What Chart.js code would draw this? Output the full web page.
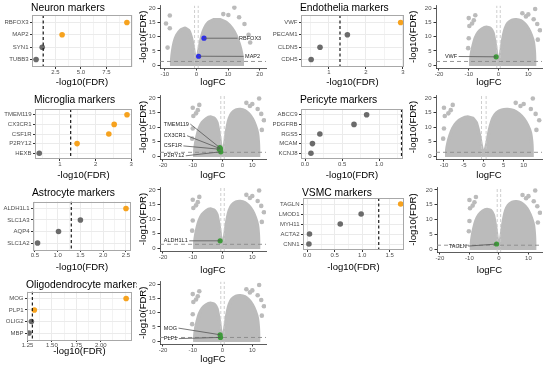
<!DOCTYPE html>
<html><head><meta charset="utf-8">
<script src="https://cdn.jsdelivr.net/npm/chart.js@4.4.0/dist/chart.umd.min.js"></script>
<style>
html,body{margin:0;padding:0;background:#fff;}
#wrap{position:relative;width:546px;height:365px;overflow:hidden;background:#fff;}
canvas{position:absolute;}
</style></head><body><div id="wrap"></div>
<script>
// ================= DATA =================
const fdrCut = 1.3;
const neuronGenes = ['RBFOX3','MAP2','SYN1','TUBB3'];
const neuronFDR   = [9.5, 3.15, 1.2, 0.6];
const neuronSig   = [true, true, false, false];
const microGenes  = ['TMEM119','CX3CR1','CSF1R','P2RY12','HEXB'];
const microFDR    = [2.88, 2.52, 2.37, 1.48, 0.42];
const microSig    = [true, true, true, true, false];
const astroGenes  = ['ALDH1L1','SLC1A3','AQP4','SLC1A2'];
const astroFDR    = [2.5, 1.5, 1.02, 0.56];
const astroSig    = [true, false, false, false];
const oligoGenes  = ['MOG','PLP1','OLIG2','MBP'];
const oligoFDR    = [2.26, 1.32, 1.29, 1.265];
const oligoSig    = [true, true, false, false];
const endoGenes   = ['VWF','PECAM1','CLDN5','CDH5'];
const endoFDR     = [2.94, 1.5, 0.76, 0.52];
const endoSig     = [true, false, false, false];
const periGenes   = ['ABCC9','PDGFRB','RGS5','MCAM','KCNJ8'];
const periFDR     = [0.83, 0.66, 0.2, 0.1, 0.08];
const periSig     = [false, false, false, false, false];
const vsmcGenes   = ['TAGLN','LMOD1','MYH11','ACTA2','CNN1'];
const vsmcFDR     = [1.7, 0.98, 0.6, 0.04, 0.03];
const vsmcSig     = [true, false, false, false, false];

// logFC of the highlighted genes, same order as the genes flagged above
const neuronLogFC = [2.4, 0.7];
const microLogFC  = [-0.9, -0.7, -1.1, -0.6];
const astroLogFC  = [-0.8];
const oligoLogFC  = [-0.8, -0.7];
const endoLogFC   = [-0.8];
const vsmcLogFC   = [-0.8];

// tick labels
const neuronTicks = ['2.5','5.0','7.5'];
const microTicks  = ['1','2','3'];
const astroTicks  = ['0.5','1.0','1.5','2.0','2.5'];
const oligoTicks  = ['1.25','1.50','1.75','2.00'];
const endoTicks   = ['1','2','3'];
const periTicks   = ['0.0','0.5','1.0'];
const vsmcTicks   = ['0.0','0.5','1.0','1.5'];
const volcYTicks  = ['0','5','10','15','20'];
const volcXTicks  = ['-20','-10','0','10'];
const neuVXTicks  = ['-10','0','10','20'];
const periVXTicks = ['-10','-5','0','5','10'];

// volcano clouds: envelope of the dense region, and isolated points [logFC, -log10FDR]
const stdCloud = [[-9.3,-0.3],[-9.3,2],[-9,4.5],[-8.5,7],[-7.8,9.5],[-6.8,11.5],[-5.5,12.8],[-4,13.4],[-2.8,13],[-1.9,11.5],[-1.4,9],[-1,6.5],[-0.7,4],[-0.4,2],[0,1.3],[0.4,2.2],[0.8,4.5],[1.2,7.5],[1.7,10.5],[2.3,13],[3.2,14.8],[4.5,15.8],[6,16],[7.5,15.6],[8.8,14.5],[10,12.8],[11,10.5],[11.7,8],[12,5],[12.1,2.5],[12.1,-0.3]];
const stdOutliers = [[-10,16.6],[-8.3,15.8],[-8.9,14.7],[-9.8,13.8],[-7.8,17.6],[-10.2,6],[-10,9.5],[8,18.3],[10,17.9],[12.3,19.8],[13.9,12.3],[13,14.5],[11.8,16.2],[9.2,17.2],[13.2,9]];
const neuCloud = [[-7.8,-0.3],[-7.8,2],[-7.5,5],[-7,8],[-6.2,10.5],[-5,12.3],[-3.6,13],[-2.5,12.3],[-1.7,10],[-1.1,7],[-0.7,4],[-0.35,2],[0,1.3],[0.35,2.2],[0.7,4.5],[1.2,7.5],[1.8,10.5],[2.6,13],[3.8,15],[5.5,16],[7.5,16],[9.5,15],[11.2,13],[12.5,10.5],[13.5,7.5],[14.2,4.5],[14.5,2],[14.5,-0.3]];
const neuOutliers = [[-8.4,17.5],[-9.6,14.7],[-8.4,13],[-9.1,6.2],[10.1,17.7],[12,20.3],[13.5,16.9],[15.2,14.5],[16.5,10.7],[8.5,18],[17,8]];

// ================= LAYOUT / STYLE =================
const FAM = "'Liberation Sans', Arial, Helvetica, sans-serif";
function hasFont(f){
  const c=document.createElement('canvas').getContext('2d');
  c.font='20px monospace'; const a=c.measureText('TMEM119 markers').width;
  c.font='20px "'+f+'", monospace'; return Math.abs(c.measureText('TMEM119 markers').width-a)>0.5;
}
const NARROW = hasFont('Liberation Sans Narrow');
const TICKFONT = NARROW ? {family:"'Liberation Sans Narrow', 'Liberation Sans', Arial, sans-serif", size:7} : {family:FAM, size:6};
const ORANGE = '#F6A21E', DGRAY = '#6B6B6B', VGRAY = '#BBBBBB', GREEN = '#3E9A3A', BLUE = '#2E2EEA';
Chart.defaults.font.family = FAM;
Chart.defaults.animation = false;
Chart.defaults.plugins.legend.display = false;
Chart.defaults.plugins.tooltip.enabled = false;

const wrap = document.getElementById('wrap');
function mkCanvas(l,t,w,h){
  const c=document.createElement('canvas');
  c.style.left=l+'px'; c.style.top=t+'px';
  c.width=w; c.height=h; c.style.width=w+'px'; c.style.height=h+'px';
  wrap.appendChild(c); return c;
}

const framePlugin = {
  id:'frame',
  afterDatasetsDraw(chart,args,o){
    if(!o || !o.show) return;
    const a=chart.chartArea, ctx=chart.ctx;
    ctx.save(); ctx.strokeStyle=o.color||'#999'; ctx.lineWidth=1;
    ctx.strokeRect(Math.round(a.left)+0.5,Math.round(a.top)+0.5,Math.round(a.right-a.left)-1,Math.round(a.bottom-a.top)-1);
    ctx.restore();
  },
  afterDraw(chart,args,o){
    if(!o || !o.title) return;
    const ctx=chart.ctx;
    ctx.save(); ctx.font='10.3px '+FAM; ctx.fillStyle='#000'; ctx.textBaseline='alphabetic'; ctx.textAlign='left';
    ctx.fillText(o.title, chart.chartArea.left-1, o.titleY);
    ctx.restore();
  }
};
const labelPlugin = {
  id:'geneLabels',
  afterDatasetsDraw(chart,args,o){
    if(!o || !o.items) return;
    const ctx=chart.ctx, x=chart.scales.x, y=chart.scales.y;
    ctx.save(); ctx.font=(TICKFONT.size-0.5)+'px '+TICKFONT.family; ctx.textBaseline='middle'; ctx.textAlign='left';
    o.items.forEach(it=>{
      const px=x.getPixelForValue(it.px), py=y.getPixelForValue(it.py);
      const lx=x.getPixelForValue(it.lx), ly=y.getPixelForValue(it.ly);
      const w=ctx.measureText(it.text).width;
      const ex = (lx+w < px) ? lx+w+1.5 : lx-1.5;
      ctx.strokeStyle='#555'; ctx.lineWidth=0.8;
      ctx.beginPath(); ctx.moveTo(ex,ly); ctx.lineTo(px,py); ctx.stroke();
      ctx.fillStyle='#222'; ctx.fillText(it.text,lx,ly);
    });
    ctx.restore();
  }
};
Chart.register(framePlugin,labelPlugin);

function near(a,b){return Math.abs(a-b)<1e-6;}

function dotChart(p){
  const [cl,ct,cw,ch]=p.canvas, [bl,bt,br,bb]=p.box;
  const cv=mkCanvas(cl,ct,cw,ch);
  const n=p.genes.length;
  const majors=p.ticks.map(Number);
  const step=majors[1]-majors[0];
  const all=[];
  for(let k=-1;k<=majors.length;k++){
    const v=majors[0]+k*step;
    if(v>=p.min-1e-9 && v<=p.max+1e-9) all.push(v);
    const m=v+step/2;
    if(m>=p.min && m<=p.max) all.push(m);
  }
  all.sort((a,b)=>a-b);
  const isMaj=v=>majors.some(m=>near(m,v));
  new Chart(cv,{
    type:'scatter',
    data:{datasets:[
      {type:'line',data:[{x:fdrCut,y:0.4},{x:fdrCut,y:n+0.6}],borderColor:'#1a1a1a',borderWidth:1.2,borderDash:[3,2.5],pointRadius:0,order:0},
      {data:p.vals.map((v,i)=>({x:v,y:i+1})),pointRadius:2.8,pointBorderWidth:0,
        pointBackgroundColor:p.sig.map(s=>s?ORANGE:DGRAY),order:1}
    ]},
    options:{
      responsive:false,
      layout:{padding:{left:0,top:bt-ct,right:cl+cw-br,bottom:0}},
      plugins:{frame:{show:true,color:'#A8A8A8',title:p.title,titleY:p.titleY-ct}},
      scales:{
        x:{type:'linear',min:p.min,max:p.max,
          afterBuildTicks:s=>{s.ticks=all.map(v=>({value:v}));},
          ticks:{autoSkip:false,maxRotation:0,padding:0,font:TICKFONT,color:'#4D4D4D',
            callback:(v)=>{const i=majors.findIndex(m=>near(m,v));return i>=0?p.ticks[i]:'';}},
          grid:{color:'#EBEBEB',lineWidth:c=>(c.tick&&isMaj(c.tick.value))?1:0.6,tickLength:2,
            tickColor:c=>(c.tick&&isMaj(c.tick.value))?'#333':'rgba(0,0,0,0)'},
          border:{display:false},
          title:{display:true,text:'-log10(FDR)',font:{size:9.5},color:'#000',padding:{top:0,bottom:0}},
          afterFit:s=>{s.height=ct+ch-bb;}
        },
        y:{type:'linear',reverse:true,min:0.4,max:n+0.6,
          afterBuildTicks:s=>{s.ticks=p.genes.map((g,i)=>({value:i+1}));},
          ticks:{autoSkip:false,padding:1.5,font:TICKFONT,color:'#4D4D4D',callback:v=>p.genes[Math.round(v)-1]||''},
          grid:{color:'#EBEBEB',lineWidth:1,tickLength:2,tickColor:'#333'},
          border:{display:false},
          afterFit:s=>{s.width=bl-cl;}
        }
      }
    }
  });
}

function volcChart(p){
  const [cl,ct,cw,ch]=p.canvas, [al,at,ar,ab]=p.area;
  const cv=mkCanvas(cl,ct,cw,ch);
  const toPts=a=>a.map(q=>({x:q[0],y:q[1]}));
  const xt=p.xticks.map(Number), yt=volcYTicks.map(Number);
  const ds=[];
  if(p.hits.length){
    ds.push({data:p.hits.map(h=>({x:h.x,y:h.y})),pointRadius:2.6,pointBorderWidth:0,pointBackgroundColor:p.hitColor,order:0});
  }
  ds.push({type:'line',data:[{x:p.xmin,y:fdrCut},{x:p.xmax,y:fdrCut}],borderColor:'#8a8a8a',borderWidth:0.9,borderDash:[4,3],pointRadius:0,order:1});
  [-p.fcCut,p.fcCut].forEach(v=>ds.push({type:'line',data:[{x:v,y:-1},{x:v,y:21}],borderColor:'#C8C8C8',borderWidth:0.9,borderDash:[3,2],pointRadius:0,order:1}));
  ds.push({data:toPts(p.outliers),pointRadius:2.3,pointBorderWidth:0,pointBackgroundColor:VGRAY,order:2});
  ds.push({type:'line',data:toPts(p.cloud),fill:'shape',backgroundColor:VGRAY,borderColor:VGRAY,borderWidth:3.5,borderJoinStyle:'round',tension:0.1,pointRadius:0,order:3});
  new Chart(cv,{
    type:'scatter',
    data:{datasets:ds},
    options:{
      responsive:false,
      layout:{padding:{left:0,top:at-ct,right:cl+cw-ar,bottom:0}},
      plugins:{geneLabels:{items:p.labels}},
      scales:{
        x:{type:'linear',min:p.xmin,max:p.xmax,
          afterBuildTicks:s=>{s.ticks=xt.map(v=>({value:v}));},
          ticks:{autoSkip:false,maxRotation:0,padding:0,font:TICKFONT,color:'#4D4D4D',callback:v=>{const i=xt.findIndex(m=>near(m,v));return i>=0?p.xticks[i]:'';}},
          grid:{drawOnChartArea:false,tickLength:2.5,color:'#333',tickColor:'#333'},
          border:{display:true,color:'#333',width:0.8},
          title:{display:true,text:'logFC',font:{size:9.5},color:'#000',padding:{top:0,bottom:0}},
          afterFit:s=>{s.height=ct+ch-ab;}
        },
        y:{type:'linear',min:-1,max:21,
          afterBuildTicks:s=>{s.ticks=yt.map(v=>({value:v}));},
          ticks:{autoSkip:false,padding:2,font:TICKFONT,color:'#4D4D4D',callback:v=>{const i=yt.findIndex(m=>near(m,v));return i>=0?volcYTicks[i]:'';}},
          grid:{drawOnChartArea:false,tickLength:2.5,color:'#333',tickColor:'#333'},
          border:{display:true,color:'#333',width:0.8},
          title:{display:true,text:'-log10(FDR)',font:{size:9.5},color:'#000',padding:{top:2.3,bottom:0}},
          afterFit:s=>{s.width=al-cl;}
        }
      }
    }
  });
}

function hitsOf(genes,vals,sig,fcs){
  const out=[]; let k=0;
  genes.forEach((g,i)=>{ if(sig[i]){ out.push({gene:g,x:fcs[k],y:vals[i]}); k++; } });
  return out;
}
function lab(hits,pos){ return hits.map((h,i)=>({text:h.gene,px:h.x,py:h.y,lx:pos[i][0],ly:pos[i][1]})); }

// ---- dot panels ----
dotChart({genes:neuronGenes,vals:neuronFDR,sig:neuronSig,ticks:neuronTicks,min:0.2,max:10.0,title:'Neuron markers',titleY:11,canvas:[0,0,137,88],box:[32,15,132,67]});
dotChart({genes:microGenes,vals:microFDR,sig:microSig,ticks:microTicks,min:0.3,max:3.02,title:'Microglia markers',titleY:102.5,canvas:[0,88,137,93],box:[35,109,132,159]});
dotChart({genes:astroGenes,vals:astroFDR,sig:astroSig,ticks:astroTicks,min:0.46,max:2.61,title:'Astrocyte markers',titleY:195.7,canvas:[0,181,137,92],box:[33,201.5,131,250]});
dotChart({genes:oligoGenes,vals:oligoFDR,sig:oligoSig,ticks:oligoTicks,min:1.245,max:2.32,title:'Oligodendrocyte markers',titleY:288.3,canvas:[0,273,137,84],box:[27,291.5,132,340]});
dotChart({genes:endoGenes,vals:endoFDR,sig:endoSig,ticks:endoTicks,min:0.246,max:3.03,title:'Endothelia markers',titleY:11,canvas:[270,0,138,88],box:[301,15,404,67]});
dotChart({genes:periGenes,vals:periFDR,sig:periSig,ticks:periTicks,min:-0.054,max:1.32,title:'Pericyte markers',titleY:102.5,canvas:[270,88,138,93],box:[301,109,403,159]});
dotChart({genes:vsmcGenes,vals:vsmcFDR,sig:vsmcSig,ticks:vsmcTicks,min:-0.078,max:1.76,title:'VSMC markers',titleY:195.7,canvas:[270,181,138,92],box:[303,198,405,250]});

// ---- volcano panels ----
const neuHits=hitsOf(neuronGenes,neuronFDR,neuronSig,neuronLogFC);
volcChart({canvas:[135,0,135,88],area:[160,3,268,68],xmin:-11.5,xmax:22,xticks:neuVXTicks,fcCut:0.58,
  cloud:neuCloud,outliers:neuOutliers,hits:neuHits,hitColor:BLUE,
  labels:lab(neuHits,[[13.5,9.5],[15.4,3.1]])});
const micHits=hitsOf(microGenes,microFDR,microSig,microLogFC);
volcChart({canvas:[135,88,135,93],area:[160,95,267,159],xmin:-21,xmax:14.6,xticks:volcXTicks,fcCut:0.58,
  cloud:stdCloud,outliers:stdOutliers,hits:micHits,hitColor:GREEN,
  labels:lab(micHits,[[-19.7,11],[-19.7,7],[-19.7,3.5],[-19.7,0.1]])});
const astHits=hitsOf(astroGenes,astroFDR,astroSig,astroLogFC);
volcChart({canvas:[135,181,135,95],area:[160,187,267,251],xmin:-21,xmax:14.6,xticks:volcXTicks,fcCut:0.58,
  cloud:stdCloud,outliers:stdOutliers,hits:astHits,hitColor:GREEN,
  labels:lab(astHits,[[-19.7,2.5]])});
const oliHits=hitsOf(oligoGenes,oligoFDR,oligoSig,oligoLogFC);
volcChart({canvas:[135,276,135,89],area:[160,278,267,344],xmin:-21,xmax:14.6,xticks:volcXTicks,fcCut:0.58,
  cloud:stdCloud,outliers:stdOutliers,hits:oliHits,hitColor:GREEN,
  labels:lab(oliHits,[[-19.7,4.6],[-19.7,0.9]])});
const endHits=hitsOf(endoGenes,endoFDR,endoSig,endoLogFC);
volcChart({canvas:[405,0,141,88],area:[436,3,543,68],xmin:-21,xmax:14.6,xticks:volcXTicks,fcCut:0.58,
  cloud:stdCloud,outliers:stdOutliers,hits:endHits,hitColor:GREEN,
  labels:lab(endHits,[[-18,3.05]])});
volcChart({canvas:[405,88,141,93],area:[436,95,543,159],xmin:-12,xmax:14.6,xticks:periVXTicks,fcCut:0.58,
  cloud:stdCloud,outliers:stdOutliers,hits:[],hitColor:GREEN,labels:[]});
const vsmHits=hitsOf(vsmcGenes,vsmcFDR,vsmcSig,vsmcLogFC);
volcChart({canvas:[405,181,141,95],area:[437,187,543,252],xmin:-21,xmax:14.6,xticks:volcXTicks,fcCut:0.58,
  cloud:stdCloud,outliers:stdOutliers,hits:vsmHits,hitColor:GREEN,
  labels:lab(vsmHits,[[-17,1.0]])});
</script></body></html>
